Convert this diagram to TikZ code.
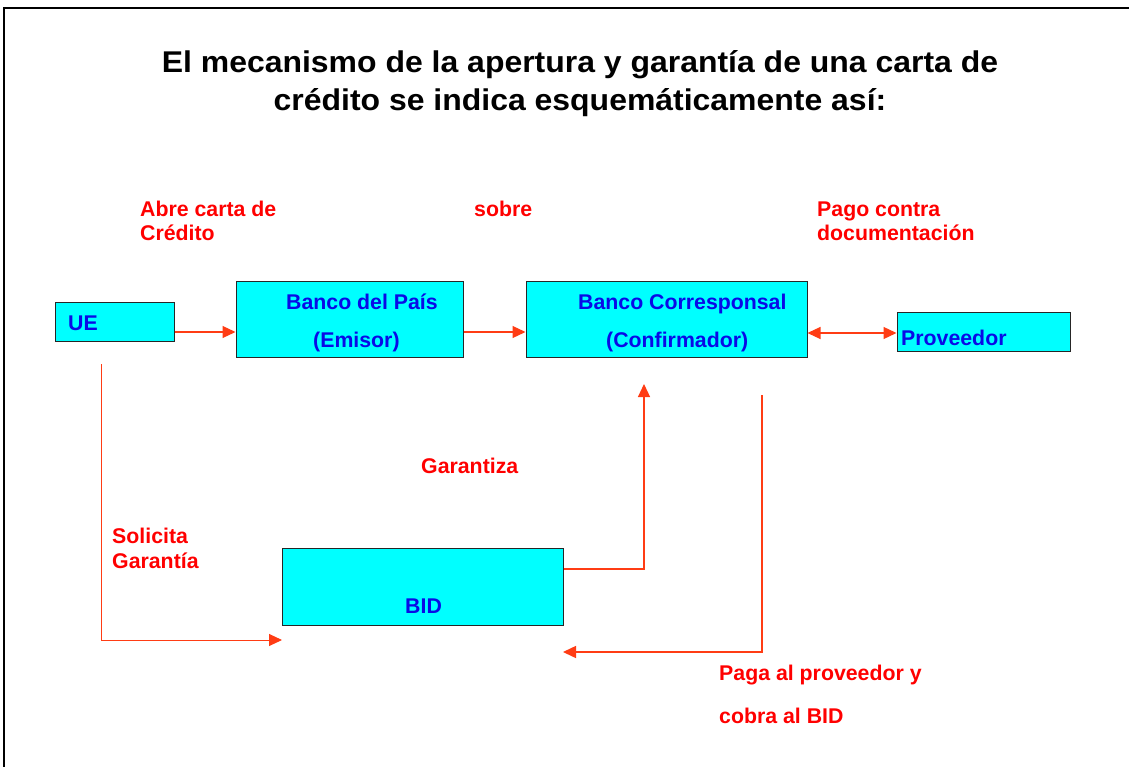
\documentclass[tikz,border=0pt]{standalone}
\usepackage{fontspec}
\setmainfont{Liberation Sans}
\newfontfamily\titlefont[FakeStretch=1.065]{Liberation Sans}
\usetikzlibrary{arrows.meta}
\definecolor{boxcyan}{RGB}{0,255,255}
\definecolor{arrowred}{RGB}{255,60,20}
\definecolor{lblred}{RGB}{255,0,0}
\definecolor{txtblue}{RGB}{10,10,230}
\begin{document}
\begin{tikzpicture}[x=1pt,y=-1pt,
  boxnode/.style={draw=black!85,line width=1pt,fill=boxcyan,inner sep=0pt},
  conn/.style={draw=arrowred,line width=1.2pt,-{Triangle[length=13pt,width=12pt]}},
  lbl/.style={text=lblred,font=\fontsize{21.3}{24}\selectfont\bfseries,anchor=base west,inner sep=0pt},
  btxt/.style={text=txtblue,font=\fontsize{21.3}{24}\selectfont\bfseries,anchor=base west,inner sep=0pt},
  ttl/.style={text=black,font=\titlefont\fontsize{30}{34}\selectfont\bfseries,anchor=base,inner sep=0pt}]
\useasboundingbox (0,0) rectangle (1129,767);
\fill[white] (0,0) rectangle (1129,767);
\draw[line width=2pt] (4,768) -- (4,8) -- (1130,8);
% title
\node[ttl] (t1) at (580,73) {El mecanismo de la apertura y garantía de una carta de};
\node[ttl] (t2) at (580,111) {crédito se indica esquemáticamente así:};
% boxes
\node[boxnode,minimum width=119pt,minimum height=39pt] (ue) at (114.5,321.5) {};
\node[boxnode,minimum width=227pt,minimum height=76pt] (bp) at (349.5,319) {};
\node[boxnode,minimum width=281pt,minimum height=76pt] (bc) at (666.5,319) {};
\node[boxnode,minimum width=173pt,minimum height=39pt] (pv) at (983.5,331.5) {};
\node[boxnode,minimum width=281pt,minimum height=77pt] (bid) at (422.5,586.5) {};
% box texts
\node[btxt] (tue) at (68,330) {UE};
\node[btxt] (tbp1) at (286,309) {Banco del País};
\node[btxt] (tbp2) at (313,347) {(Emisor)};
\node[btxt] (tbc1) at (578,309) {Banco Corresponsal};
\node[btxt] (tbc2) at (606,347) {(Confirmador)};
\node[btxt] (tpv) at (901,345) {Proveedor};
\node[btxt] (tbid) at (405,613) {BID};
% connector helper coordinates
\coordinate (a1) at (101,364);
\coordinate (a2) at (101,640);
\coordinate (a3) at (282,640);
\coordinate (g1) at (644,569);
\coordinate (g2) at (644,384);
\coordinate (p1) at (762,395);
\coordinate (p2) at (762,652);
\coordinate (p3) at (563,652);
% connectors
\draw[conn] (ue.east |- 0,332) -- (bp.west |- 0,332);
\draw[conn] (bp.east |- 0,332) -- (bc.west |- 0,332);
\draw[conn,{Triangle[length=13pt,width=12pt]}-{Triangle[length=13pt,width=12pt]}] (bc.east |- 0,333) -- (pv.west |- 0,333);
\draw[conn,line width=1pt] (a1) -- (a2) -- (a3);
\draw[conn] (bid.east |- g1) -- (g1) -- (g2);
\draw[conn,line width=1.5pt] (p1) -- (p2) -- (p3);
% labels
\node[lbl] (l1) at (140,217) {Abre carta de};
\node[lbl] (l2) at (140,241) {Crédito};
\node[lbl] (l3) at (474,217) {sobre};
\node[lbl] (l4) at (817,217) {Pago contra};
\node[lbl] (l5) at (817,241) {documentación};
\node[lbl] (l6) at (421,473) {Garantiza};
\node[lbl] (l7) at (112,543) {Solicita};
\node[lbl] (l8) at (112,568) {Garantía};
\node[lbl] (l9) at (719,680) {Paga al proveedor y};
\node[lbl] (l10) at (719,723) {cobra al BID};
\end{tikzpicture}
\end{document}
